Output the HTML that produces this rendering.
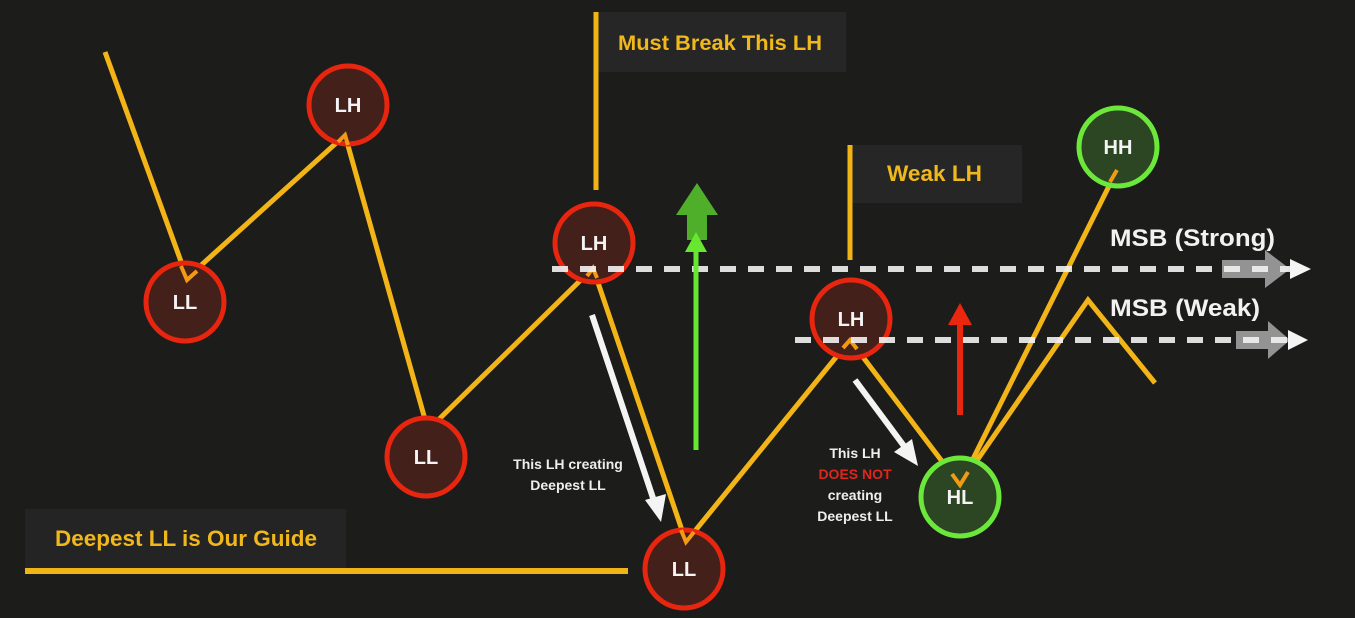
<!DOCTYPE html>
<html><head><meta charset="utf-8"><style>
html,body{margin:0;padding:0;background:#1c1c1b;}
svg{display:block;}
text{font-family:"Liberation Sans",sans-serif;font-weight:bold;}
</style></head><body>
<svg width="1355" height="618" viewBox="0 0 1355 618" xmlns="http://www.w3.org/2000/svg">
<rect width="1355" height="618" fill="#1c1c1b"/>
<rect x="596" y="12" width="250" height="60" fill="#262626"/>
<rect x="850" y="145" width="172" height="58" fill="#262626"/>
<rect x="25" y="509" width="321" height="59" fill="#242424"/>
<line x1="596" y1="12" x2="596" y2="190" stroke="#f0b414" stroke-width="5"/>
<line x1="850" y1="145" x2="850" y2="260" stroke="#f0b414" stroke-width="5"/>
<line x1="25" y1="571" x2="628" y2="571" stroke="#f0b414" stroke-width="6"/>
<text x="618" y="50" fill="#f0b81c" font-size="21.5" textLength="204" lengthAdjust="spacingAndGlyphs">Must Break This LH</text>
<text x="887" y="181" fill="#f0b81c" font-size="22" textLength="95" lengthAdjust="spacingAndGlyphs">Weak LH</text>
<text x="55" y="546" fill="#f0b81c" font-size="22" textLength="262" lengthAdjust="spacingAndGlyphs">Deepest LL is Our Guide</text>
<g fill="none" stroke="#f2b417" stroke-width="5" stroke-linejoin="miter">
<polyline points="105,52 187,278 345,135 428,430 593,268 686,542 850,340 960,485 1117,170"/>
<polyline points="960,485 1088,300 1155,383"/>
</g>
<g stroke="#e8260f" stroke-width="5" fill="#44201a">
<circle cx="348" cy="105" r="39"/>
<circle cx="185" cy="302" r="39"/>
<circle cx="426" cy="457" r="39"/>
<circle cx="594" cy="243" r="39"/>
<circle cx="684" cy="569" r="39"/>
<circle cx="851" cy="319" r="39"/>
</g>
<g stroke="#6ce83a" stroke-width="5" fill="#2c4522">
<circle cx="960" cy="497" r="39"/>
<circle cx="1118" cy="147" r="39"/>
</g>
<g fill="none" stroke="#f29a14" stroke-width="4">
<polyline points="181,266 187,280 197,271"/>
<polyline points="338,142 345,135 348,145"/>
<polyline points="587,276 593,268 597,278"/>
<polyline points="681,530 686,542 694,532"/>
<polyline points="843,348 850,340 857,349"/>
<polyline points="952,474 960,485 968,472"/>
<polyline points="1110,182 1117,170"/>
</g>
<polygon points="1222,260 1265,260 1265,250 1290,269 1265,288 1265,278 1222,278" fill="#a8a8a8" opacity="0.85"/>
<polygon points="1236,331 1268,331 1268,321 1290,340 1268,359 1268,349 1236,349" fill="#a8a8a8" opacity="0.85"/>
<g stroke="#f2f2f2" stroke-width="6" stroke-dasharray="16,12" opacity="0.9">
<line x1="552" y1="269" x2="1290" y2="269"/>
<line x1="795" y1="340" x2="1290" y2="340"/>
</g>
<polygon points="1290,259 1311,269 1290,279" fill="#f5f5f5"/>
<polygon points="1288,330 1308,340 1288,350" fill="#f5f5f5"/>
<polygon points="697,183 718,215 707,215 707,240 687,240 687,215 676,215" fill="#4fae2a"/>
<line x1="696" y1="450" x2="696" y2="248" stroke="#66e830" stroke-width="5"/>
<polygon points="696,232 707,252 685,252" fill="#66e830"/>
<line x1="960" y1="415" x2="960" y2="320" stroke="#e8270e" stroke-width="6"/>
<polygon points="960,303 972,325 948,325" fill="#e8270e"/>
<line x1="592" y1="315" x2="653" y2="498" stroke="#f4f4f4" stroke-width="6"/>
<polygon points="661,522 645,500 666,494" fill="#f4f4f4"/>
<line x1="855" y1="380" x2="904" y2="446" stroke="#f4f4f4" stroke-width="6"/>
<polygon points="918,466 894,452 912,439" fill="#f4f4f4"/>
<g fill="#eeeeee" font-size="14" text-anchor="middle">
<text x="568" y="469">This LH creating</text>
<text x="568" y="490">Deepest  LL</text>
<text x="855" y="458">This LH</text>
<text x="855" y="479" fill="#e0261a">DOES NOT</text>
<text x="855" y="500">creating</text>
<text x="855" y="521">Deepest  LL</text>
</g>
<text x="1110" y="246" fill="#f2f2f2" font-size="24" textLength="165" lengthAdjust="spacingAndGlyphs">MSB (Strong)</text>
<text x="1110" y="316" fill="#f2f2f2" font-size="24" textLength="150" lengthAdjust="spacingAndGlyphs">MSB (Weak)</text>
<g fill="#f4f4f4" font-size="20" text-anchor="middle">
<text x="348" y="112">LH</text>
<text x="185" y="309">LL</text>
<text x="426" y="464">LL</text>
<text x="594" y="250">LH</text>
<text x="684" y="576">LL</text>
<text x="851" y="326">LH</text>
<text x="960" y="504">HL</text>
<text x="1118" y="154">HH</text>
</g>
</svg>
</body></html>
